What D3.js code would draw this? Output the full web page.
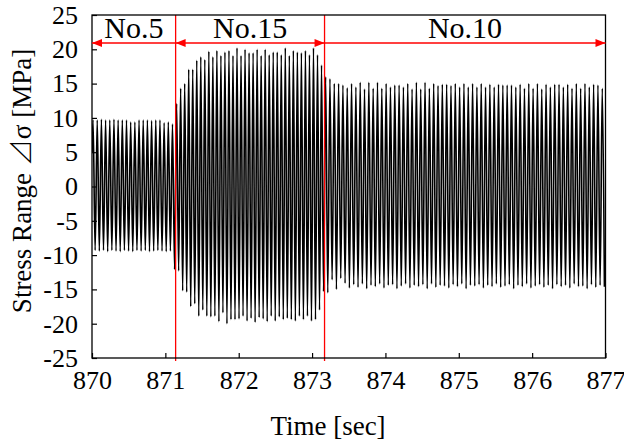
<!DOCTYPE html>
<html>
<head>
<meta charset="utf-8">
<script src="https://cdn.jsdelivr.net/npm/d3@7"></script>
<style>
  body { margin: 0; background: #fff; }
  svg text { font-family: "Liberation Serif", "Times New Roman", Times, serif; fill: #000; }
</style>
</head>
<body>
<div id="chart"></div>
<script>
// Axis ticks
const xTicks = [870, 871, 872, 873, 874, 875, 876, 877];
const yTicks = [-25, -20, -15, -10, -5, 0, 5, 10, 15, 20, 25];

// Test case boundaries (red lines) and labels
const caseBounds = [870, 871.14, 873.17, 877];
const caseLabels = ['No.5', 'No.15', 'No.10'];

// Signal value at the left edge
const startValue = 5;

// Peak / trough of each cycle
const no5Peaks = [9.7, 9.7, 9.8, 9.7, 9.7, 9.8, 9.7, 9.7, 9.7, 9.4, 9.4, 9.7, 9.7, 9.7, 9.6, 9.7, 9.7, 9.3, 9.4, 9.1];
const no5Troughs = [-9.3, -9.4, -9.3, -9.5, -9.3, -9.4, -9.5, -9.3, -9.4, -9.5, -9.3, -9.4, -9.3, -9.5, -9.4, -9.3, -9.4, -9.5, -9.4, -12.1];

const no15Peaks = [12.1, 14.3, 15.0, 17.1, 17.1, 18.4, 18.9, 18.5, 19.7, 18.9, 19.8, 19.1, 19.6, 19.8, 19.1, 20.2, 19.1, 20.0, 19.5,
  19.5, 20.0, 19.1, 20.0, 19.2, 19.6, 19.6, 19.2, 20.2, 19.1, 19.8, 19.6, 19.5, 19.8, 19.2, 20.2, 19.2, 17.7];
const no15Troughs = [-12.3, -15.2, -15.4, -17.5, -17.1, -18.9, -18.0, -18.9, -19.0, -18.9, -19.7, -18.4, -20.0, -19.4, -19.4, -19.3, -18.9, -19.6, -19.2,
  -19.8, -19.1, -19.3, -19.7, -18.9, -19.6, -19.0, -19.4, -19.2, -19.4, -19.6, -18.9, -19.4, -18.9, -19.6, -19.4, -18.0, -15.3];

const no10Peaks = [16.0, 15.7, 15.0, 15.0, 14.8, 14.4, 15.0, 14.5, 15.2, 14.2, 15.2, 14.3, 15.2, 14.3, 15.0, 14.5, 14.8, 14.8, 14.5,
  15.0, 14.2, 15.2, 14.2, 15.2, 14.3, 15.0, 14.7, 14.9, 14.9, 14.7, 15.0, 14.5, 15.0, 14.5, 15.0, 14.5, 15.0, 14.5, 14.9, 14.5,
  14.9, 14.8, 14.8, 14.8, 14.5, 14.9, 14.3, 15.0, 14.3, 15.0, 14.2, 14.9, 14.5, 14.9, 14.9, 14.5, 14.9, 14.3, 15.0, 14.3, 15.0,
  14.5, 14.9, 14.8, 14.3];
const no10Troughs = [-15.5, -13.6, -15.0, -13.4, -14.1, -14.8, -14.3, -14.7, -14.2, -14.9, -14.4, -14.6, -14.2, -14.8, -14.4, -14.3, -14.9, -14.5,
  -14.2, -14.8, -14.4, -14.6, -14.3, -14.9, -14.2, -14.7, -14.4, -14.5, -14.8, -14.3, -14.6, -14.2, -14.9, -14.4, -14.5, -14.3,
  -14.8, -14.4, -14.6, -14.2, -14.7, -14.5, -14.3, -14.9, -14.4, -14.6, -14.2, -14.8, -14.5, -14.3, -14.7, -14.4, -14.9, -14.3,
  -14.6, -14.4, -14.8, -14.2, -14.6, -14.5, -14.9, -14.3, -14.7, -14.4, -14.6];

const segments = [
  { peaks: no5Peaks, troughs: no5Troughs },
  { peaks: no15Peaks, troughs: no15Troughs },
  { peaks: no10Peaks, troughs: no10Troughs }
];

// Build the signal: one peak and one trough per cycle inside each case
const signal = [{ t: caseBounds[0], v: startValue }];
segments.forEach((seg, k) => {
  const t0 = caseBounds[k];
  const dt = (caseBounds[k + 1] - t0) / seg.peaks.length;
  seg.peaks.forEach((p, i) => {
    signal.push({ t: t0 + (i + 0.25) * dt, v: p });
    signal.push({ t: t0 + (i + 0.75) * dt, v: seg.troughs[i] });
  });
});

// Dimensions
const margin = { top: 15, right: 18.5, bottom: 86, left: 92 };
const totalW = 624, totalH = 444;
const width = totalW - margin.left - margin.right;
const height = totalH - margin.top - margin.bottom;

const svg = d3.select('#chart')
  .append('svg')
  .attr('width', totalW)
  .attr('height', totalH);

const g = svg.append('g')
  .attr('transform', `translate(${margin.left},${margin.top})`);

const x = d3.scaleLinear().domain([870, 877]).range([0, width]);
const y = d3.scaleLinear().domain([-25, 25]).range([height, 0]);

g.append('defs').append('clipPath').attr('id', 'clip')
  .append('rect').attr('width', width).attr('height', height);

// Signal
const line = d3.line()
  .x((d) => x(d.t))
  .y((d) => y(d.v))
  .curve(d3.curveMonotoneX);

g.append('path')
  .datum(signal)
  .attr('clip-path', 'url(#clip)')
  .attr('fill', 'none')
  .attr('stroke', '#000')
  .attr('stroke-width', 1.6)
  .attr('d', line);

// Red case boundaries
g.selectAll('.bound')
  .data(caseBounds.slice(1, -1))
  .enter()
  .append('line')
  .attr('x1', (d) => x(d))
  .attr('x2', (d) => x(d))
  .attr('y1', 0)
  .attr('y2', height + 3)
  .attr('stroke', '#ff0000')
  .attr('stroke-width', 1.3);

// Axes with inward ticks
const xAxis = g.append('g')
  .attr('transform', `translate(0,${height})`)
  .call(d3.axisBottom(x).tickValues(xTicks).tickSize(-5).tickPadding(13).tickFormat((d) => String(d)));
const yAxis = g.append('g')
  .call(d3.axisLeft(y).tickValues(yTicks).tickSize(-5).tickPadding(14).tickFormat((d) => String(d)));

[xAxis, yAxis].forEach((a) => {
  a.select('.domain').remove();
  a.selectAll('line').attr('stroke', '#000').attr('stroke-width', 1.2);
  a.selectAll('text')
    .style('font-family', '"Liberation Serif", "Times New Roman", serif')
    .style('font-size', '26px')
    .attr('fill', '#000');
});

// Frame
g.append('rect')
  .attr('width', width)
  .attr('height', height)
  .attr('fill', 'none')
  .attr('stroke', '#000')
  .attr('stroke-width', 1.3);

// Case arrows and labels
const arrowY = 28;
const red = '#ff0000';
g.append('line')
  .attr('x1', x(caseBounds[0]))
  .attr('x2', x(caseBounds[3]))
  .attr('y1', arrowY)
  .attr('y2', arrowY)
  .attr('stroke', red)
  .attr('stroke-width', 1.5);

const heads = [
  { t: caseBounds[0], dir: -1 },
  { t: caseBounds[1], dir: -1 },
  { t: caseBounds[2], dir: 1 },
  { t: caseBounds[3], dir: 1 }
];
g.selectAll('.head')
  .data(heads)
  .enter()
  .append('path')
  .attr('fill', red)
  .attr('d', (d) => {
    const tip = x(d.t);
    const base = tip - d.dir * 10;
    return `M${tip},${arrowY}L${base},${arrowY - 4}L${base},${arrowY + 4}Z`;
  });

g.selectAll('.case-label')
  .data(caseLabels)
  .enter()
  .append('text')
  .attr('x', (d, i) => (x(caseBounds[i]) + x(caseBounds[i + 1])) / 2)
  .attr('y', arrowY - 5)
  .attr('text-anchor', 'middle')
  .style('font-size', '30px')
  .text((d) => d);

// Axis titles
svg.append('text')
  .attr('x', 328)
  .attr('y', 435)
  .attr('text-anchor', 'middle')
  .style('font-size', '27px')
  .text('Time [sec]');

const yTitle = svg.append('text')
  .attr('transform', 'translate(31,181) rotate(-90)')
  .attr('text-anchor', 'middle')
  .style('font-size', '27px');
yTitle.append('tspan').text('Stress Range ');
yTitle.append('tspan').style('font-family', '"Noto Sans CJK JP", sans-serif').style('font-weight', 200).text('⊿');
yTitle.append('tspan').text('σ [MPa]');
</script>
</body>
</html>
